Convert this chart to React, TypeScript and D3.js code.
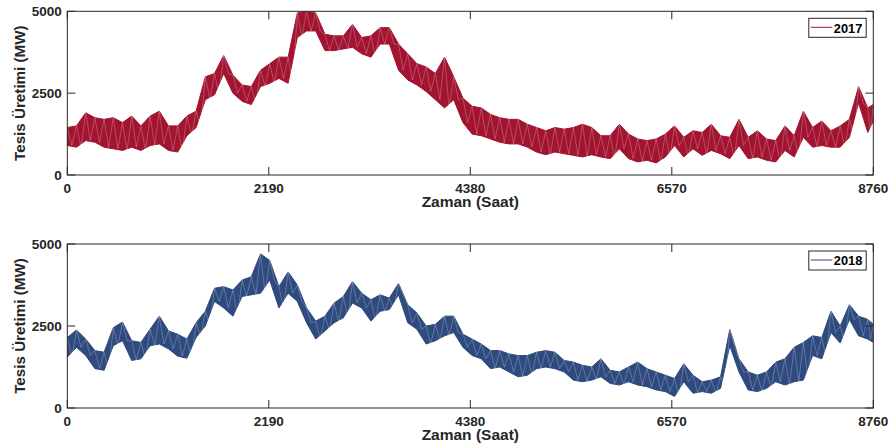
import React from "react";
import * as d3 from "d3";

// Hour index for each sample (every 100 h, last one at 8760)
const SAMPLE_STEP = 100;
const HOURS_IN_YEAR = 8760;

// 2017 — upper / lower envelope of hourly production (MW), read per 100 h
const high2017 = [
  1450, 1500, 1900, 1750, 1700, 1750, 1600, 1800, 1500, 1800,
  1950, 1500, 1500, 1800, 1950, 3000, 3100, 3650, 3050, 2750,
  2700, 3200, 3400, 3600, 3600, 4950, 5000, 4950, 4300, 4250,
  4250, 4600, 4200, 4250, 4500, 4500, 4000, 3700, 3400, 3300,
  3100, 3600, 3000, 2350, 2100, 2050, 1850, 1750, 1700, 1700,
  1550, 1450, 1350, 1450, 1400, 1450, 1550, 1450, 1200, 1200,
  1550, 1250, 1100, 1050, 1100, 1250, 1500, 1150, 1350, 1300,
  1550, 1200, 1150, 1700, 1150, 1350, 1100, 1050, 1500, 1200,
  1950, 1450, 1650, 1350, 1500, 1700, 2700, 2050, 2150,
];
const low2017 = [
  900, 850, 1050, 1000, 850, 800, 750, 850, 750, 900,
  950, 750, 700, 1200, 1450, 2300, 2450, 3100, 2500, 2250,
  2150, 2700, 2800, 2950, 2800, 4200, 4400, 4400, 3800, 3800,
  3850, 3900, 3700, 3600, 4000, 4000, 3200, 2900, 2750, 2550,
  2300, 2050, 2300, 1600, 1250, 1200, 1100, 1000, 950, 950,
  850, 700, 620, 700, 650, 600, 550, 620, 550, 500,
  800, 500, 400, 450, 370, 550, 900, 550, 800, 600,
  750, 650, 500, 900, 500, 550, 450, 400, 750, 550,
  1150, 850, 900, 850, 850, 1150, 2200, 1300, 1650,
];

// 2018 — upper / lower envelope of hourly production (MW), read per 100 h
const high2018 = [
  2150, 2380, 2100, 1750, 1700, 2450, 2620, 2050, 2000, 2400,
  2800, 2350, 2250, 2100, 2600, 2950, 3650, 3700, 3600, 3900,
  4000, 4700, 4500, 3700, 4150, 3750, 3050, 2650, 2800, 3200,
  3400, 3850, 3500, 3300, 3450, 3350, 3800, 3150, 2900, 2500,
  2550, 2800, 2800, 2250, 2100, 1950, 1750, 1750, 1650, 1600,
  1600, 1700, 1750, 1700, 1450, 1400, 1300, 1250, 1500, 1150,
  1100, 1250, 1400, 1200, 1100, 1000, 900, 1350, 1000, 800,
  850, 950, 2400, 1500, 1100, 1000, 1100, 1400, 1500, 1850,
  2000, 2200, 2150, 2950, 2500, 3150, 2800, 2700, 2550,
];
const low2018 = [
  1550, 1850, 1600, 1200, 1150, 1900, 2050, 1450, 1500, 1900,
  1950, 1800, 1580, 1520, 2150, 2500, 3250, 3050, 2800, 3400,
  3450, 3500, 3900, 3050, 3500, 3250, 2600, 2100, 2350, 2600,
  2750, 3200, 3050, 2650, 2950, 3000, 3450, 2600, 2400, 1950,
  2050, 2200, 2300, 1850, 1600, 1500, 1200, 1250, 1100, 950,
  1000, 1200, 1250, 1200, 1100, 850, 800, 850, 950, 750,
  700, 800, 700, 650, 550, 500, 350, 800, 450, 500,
  450, 600, 1900, 1100, 550, 500, 600, 800, 700, 800,
  850, 1600, 1500, 2300, 1980, 2700, 2200, 2100, 2000,
];

const xTicks = [0, 2190, 4380, 6570, 8760];
const yTicks = [0, 2500, 5000];
const xLabel = "Zaman (Saat)";
const yLabel = "Tesis Üretimi (MW)";

const W = 890;
const H = 448;
const LEFT = 67.3;
const RIGHT = 873.3;
const FONT = "'Liberation Sans', Arial, Helvetica, sans-serif";
const AXIS_COLOR = "#262626";
const TICK_LEN = 8;

type PanelProps = {
  top: number;
  bottom: number;
  high: number[];
  low: number[];
  color: string;
  name: string;
  id: string;
};

function Panel({ top, bottom, high, low, color, name, id }: PanelProps) {
  const x = d3.scaleLinear().domain([0, HOURS_IN_YEAR]).range([LEFT, RIGHT]);
  const y = d3.scaleLinear().domain([0, 5000]).range([bottom, top]);
  const hourAt = (i: number) => Math.min(i * SAMPLE_STEP, HOURS_IN_YEAR);

  const band = high.map((h, i) => ({ t: hourAt(i), hi: h, lo: low[i] }));
  const area = d3
    .area<{ t: number; hi: number; lo: number }>()
    .x((d) => x(d.t))
    .y0((d) => y(d.lo))
    .y1((d) => y(d.hi));

  // zigzag between envelopes: peak at the sample hour, trough half a step later
  const zig: [number, number][] = [];
  band.forEach((d, i) => {
    zig.push([x(d.t), y(d.hi)]);
    const next = i < band.length - 1 ? band[i + 1].t : d.t;
    zig.push([x((d.t + next) / 2), y(d.lo)]);
  });
  const line = d3.line();

  const legendX = 808.8;
  const legendY = top + 7;
  return (
    <g>
      <defs>
        <clipPath id={id}>
          <rect x={LEFT} y={top} width={RIGHT - LEFT} height={bottom - top} />
        </clipPath>
      </defs>
      <g clipPath={`url(#${id})`}>
        <path d={area(band) ?? ""} fill={color} stroke={color} strokeWidth={1} />
        <path
          d={line(zig) ?? ""}
          fill="none"
          stroke="#ffffff"
          strokeOpacity={0.3}
          strokeWidth={0.8}
        />
      </g>
      <rect
        x={LEFT}
        y={top}
        width={RIGHT - LEFT}
        height={bottom - top}
        fill="none"
        stroke={AXIS_COLOR}
        strokeWidth={1}
      />
      {xTicks.map((t) => (
        <g key={"x" + t}>
          <line x1={x(t)} x2={x(t)} y1={bottom} y2={bottom - TICK_LEN} stroke={AXIS_COLOR} />
          <line x1={x(t)} x2={x(t)} y1={top} y2={top + TICK_LEN} stroke={AXIS_COLOR} />
          <text
            x={x(t)}
            y={bottom + 18.3}
            textAnchor="middle"
            fontFamily={FONT}
            fontWeight="bold"
            fontSize={13.5}
            fill={AXIS_COLOR}
          >
            {t}
          </text>
        </g>
      ))}
      {yTicks.map((v) => (
        <g key={"y" + v}>
          <line x1={LEFT} x2={LEFT + TICK_LEN} y1={y(v)} y2={y(v)} stroke={AXIS_COLOR} />
          <line x1={RIGHT} x2={RIGHT - TICK_LEN} y1={y(v)} y2={y(v)} stroke={AXIS_COLOR} />
          <text
            x={LEFT - 5.5}
            y={y(v) + 4.8}
            textAnchor="end"
            fontFamily={FONT}
            fontWeight="bold"
            fontSize={13.5}
            fill={AXIS_COLOR}
          >
            {v}
          </text>
        </g>
      ))}
      <text
        x={(LEFT + RIGHT) / 2}
        y={bottom + 31.8}
        textAnchor="middle"
        fontFamily={FONT}
        fontWeight="bold"
        fontSize={15.5}
        fill={AXIS_COLOR}
      >
        {xLabel}
      </text>
      <text
        transform={`translate(25,${(top + bottom) / 2}) rotate(-90)`}
        textAnchor="middle"
        fontFamily={FONT}
        fontWeight="bold"
        fontSize={15.2}
        fill={AXIS_COLOR}
      >
        {yLabel}
      </text>
      <g>
        <rect
          x={legendX}
          y={legendY}
          width={57.4}
          height={19}
          fill="#ffffff"
          stroke={AXIS_COLOR}
          strokeWidth={1}
        />
        <line
          x1={legendX + 2}
          x2={legendX + 23.5}
          y1={legendY + 9}
          y2={legendY + 9}
          stroke={color}
          strokeWidth={1}
        />
        <text
          x={legendX + 25}
          y={legendY + 14.2}
          fontFamily={FONT}
          fontWeight="bold"
          fontSize={12.8}
          fill="#000000"
        >
          {name}
        </text>
      </g>
    </g>
  );
}

export default function App() {
  return (
    <svg
      width={W}
      height={H}
      style={{ position: "absolute", left: 0, top: 0, background: "#ffffff" }}
    >
      <rect x={0} y={0} width={W} height={H} fill="#ffffff" />
      <Panel top={11.3} bottom={175} high={high2017} low={low2017} color="#A2142F" name="2017" id="clipTop" />
      <Panel top={244} bottom={408} high={high2018} low={low2018} color="#2E4A7E" name="2018" id="clipBot" />
    </svg>
  );
}
